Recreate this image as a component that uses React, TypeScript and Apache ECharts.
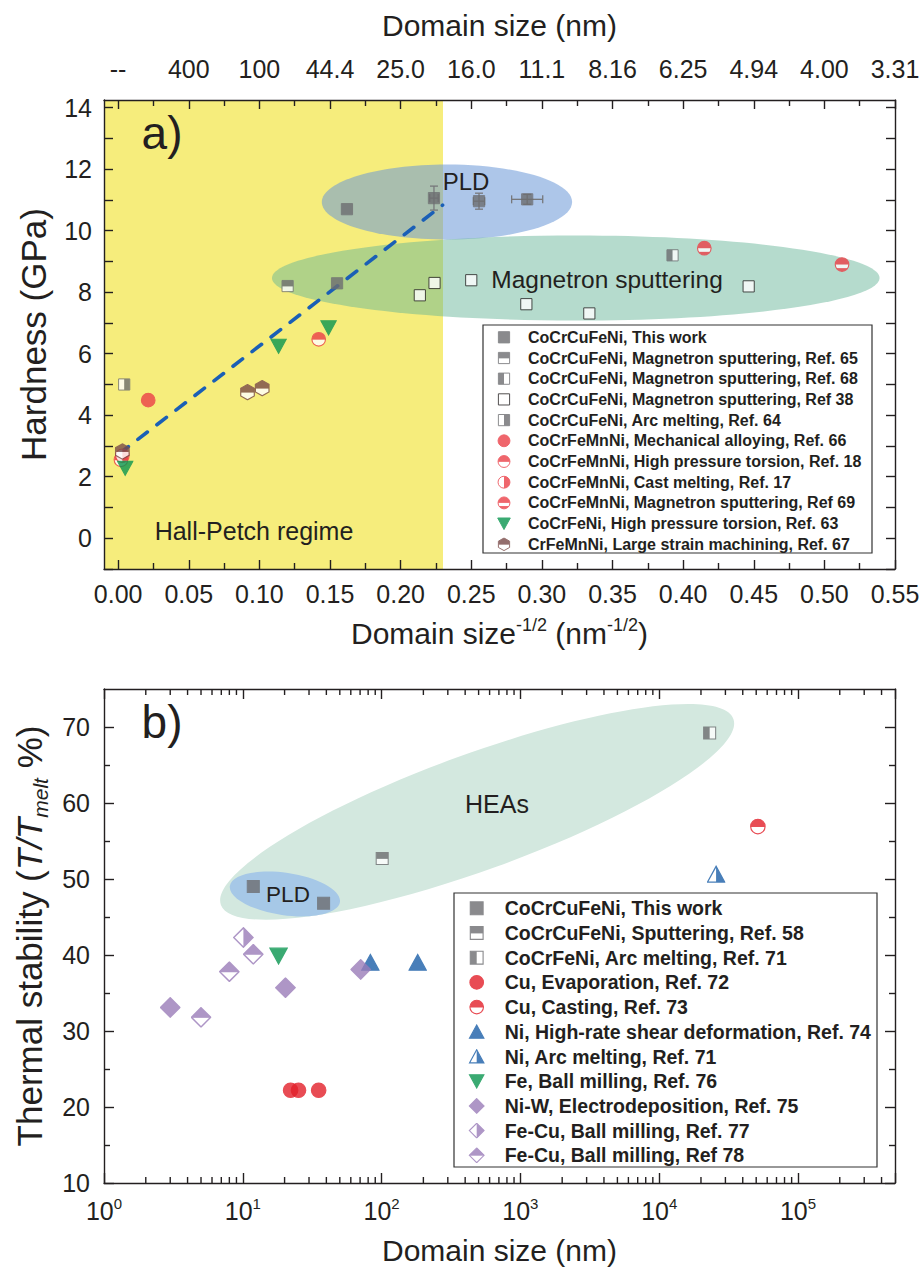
import React, { useEffect, useRef } from 'react';
import * as echarts from 'echarts';

const FONT = "'Liberation Sans', Arial, Helvetica, sans-serif";
const INK = '#231f20';

// ---------------- Panel a: axes ----------------
const aXMajor = [0, 0.05, 0.1, 0.15, 0.2, 0.25, 0.3, 0.35, 0.4, 0.45, 0.5, 0.55];
const aXMinor = [0.025, 0.075, 0.125, 0.175, 0.225, 0.275, 0.325, 0.375, 0.425, 0.475, 0.525];
const aTopLabels = ['--', '400', '100', '44.4', '25.0', '16.0', '11.1', '8.16', '6.25', '4.94', '4.00', '3.31'];
const aYLabels = [0, 2, 4, 6, 8, 10, 12, 14];
const aYTicks = [-1, 0, 1, 2, 3, 4, 5, 6, 7, 8, 9, 10, 11, 12, 13, 14];
const hallPetchLimit = 0.23;

// ---------------- Panel a: data (x = d^-1/2, y = hardness GPa) ----------------
const aThisWork = [[0.162, 10.7], [0.2236, 11.06], [0.2555, 10.96], [0.2896, 11.02], [0.155, 8.29]];
const aThisWorkErr = [[0.2236, 11.06, 0.003, 0.39], [0.2555, 10.96, 0.004, 0.26], [0.2896, 11.02, 0.011, 0.16]];
const aRef65 = [[0.12, 8.2]];
const aRef68 = [[0.3925, 9.2]];
const aRef38 = [[0.2136, 7.9], [0.224, 8.3], [0.25, 8.39], [0.289, 7.61], [0.3336, 7.31], [0.4464, 8.19]];
const aRef64 = [[0.0043, 5.0]];
const aRef66 = [[0.0213, 4.49]];
const aRef18 = [[0.142, 6.47], [0.002, 2.55]];
const aRef17 = [[0.003, 2.68]];
const aRef69 = [[0.415, 9.43], [0.5125, 8.9]];
const aRef63 = [[0.005, 2.28], [0.1136, 6.25], [0.149, 6.85]];
const aRef67 = [[0.003, 2.82], [0.0916, 4.75], [0.102, 4.88]];
const hallPetchFit = [[0.0005, 2.74], [0.2297, 10.83]];
// ellipses: [x1, y1, x2, y2] ends of major axis (data coords)
const aPldEllipse = [0.1442, 10.93, 0.3214, 10.93];
const aMagEllipse = [0.1089, 8.46, 0.5391, 8.46];

// ---------------- Panel b: axes ----------------
const bYLabels = [10, 20, 30, 40, 50, 60, 70];
const bYMinor = [15, 25, 35, 45, 55, 65];
const bXMinor = [
  2, 3, 4, 5, 6, 7, 8, 9, 20, 30, 40, 50, 60, 70, 80, 90,
  200, 300, 400, 500, 600, 700, 800, 900, 2000, 3000, 4000, 5000, 6000, 7000, 8000, 9000,
  20000, 30000, 40000, 50000, 60000, 70000, 80000, 90000, 200000, 300000, 400000,
];

// ---------------- Panel b: data (x = domain size nm, y = T/Tmelt %) ----------------
const bThisWork = [[11.9, 49.0], [38.2, 46.8]];
const bRef58 = [[101, 52.7]];
const bRef71Hea = [[23100, 69.2]];
const bRef72 = [[22.1, 22.2], [25.2, 22.2], [35.2, 22.2]];
const bRef73 = [[51400, 56.9]];
const bRef74 = [[83, 39.0], [182, 39.0]];
const bRef71Ni = [[25700, 50.6]];
const bRef76 = [[18.1, 39.9]];
const bRef75 = [[3.0, 33.1], [20.3, 35.7], [70.7, 38.1]];
const bRef77 = [[10.1, 42.3]];
const bRef78 = [[11.9, 40.1], [8.0, 37.8], [5.0, 31.8]];
const bHeaEllipse = [6.95, 46.6, 34270, 71.05];
const bPldEllipse = [8.07, 49.08, 50.1, 46.97];

// ---------------- markers ----------------
const GRAY = '#6d6e71';
const RED_A = '#ec4048';
const RED_B = '#e3202a';
const GREEN = '#0a9650';
const BROWN = '#7a4b49';
const BLUE = '#1b5fa8';
const PURPLE = '#9a7cb9';

const PATHS: Record<string, string> = {
  square: 'M2 2H18V18H2Z',
  circle: 'M1.5 10A8.5 8.5 0 1 0 18.5 10A8.5 8.5 0 1 0 1.5 10Z',
  triUp: 'M10 1.5L19 18H1Z',
  triDown: 'M1 2H19L10 18.5Z',
  diamond: 'M10 0.8L19.2 10L10 19.2L0.8 10Z',
  hexagon: 'M10 1L18 5.5V14.5L10 19L2 14.5V5.5Z',
};

function marker(shape: string, fill: string, color: string, stroke?: string): string {
  const d = PATHS[shape];
  const st = stroke || color;
  let body = '';
  const clip = `<defs><clipPath id="k"><path d="${d}"/></clipPath></defs>`;
  if (fill === 'full') body = `<path d="${d}" fill="${color}"/>`;
  else if (fill === 'open') body = `<path d="${d}" fill="#fff"/>`;
  else if (fill === 'band')
    body = `${clip}<path d="${d}" fill="${color}"/><rect x="0" y="10" width="20" height="4.5" fill="#fff" clip-path="url(#k)"/>`;
  else {
    const r =
      fill === 'top'
        ? 'x="0" y="0" width="20" height="10.5"'
        : fill === 'left'
        ? 'x="0" y="0" width="10" height="20"'
        : 'x="10" y="0" width="10" height="20"';
    body = `${clip}<path d="${d}" fill="#fff"/><rect ${r} fill="${color}" clip-path="url(#k)"/>`;
  }
  const svg = `<svg xmlns="http://www.w3.org/2000/svg" width="20" height="20" viewBox="0 0 20 20">${body}<path d="${d}" fill="none" stroke="${st}" stroke-width="1.4"/></svg>`;
  return 'image://data:image/svg+xml;charset=utf-8,' + encodeURIComponent(svg);
}

type SeriesDef = { name: string; data: number[][]; symbol: string; size: number };

const seriesA: SeriesDef[] = [
  { name: 'CoCrCuFeNi, This work', data: aThisWork, symbol: marker('square', 'full', GRAY), size: 14 },
  { name: 'CoCrCuFeNi, Magnetron sputtering, Ref. 65', data: aRef65, symbol: marker('square', 'top', GRAY), size: 14 },
  { name: 'CoCrCuFeNi, Magnetron sputtering, Ref. 68', data: aRef68, symbol: marker('square', 'left', GRAY), size: 14 },
  { name: 'CoCrCuFeNi, Magnetron sputtering, Ref 38', data: aRef38, symbol: marker('square', 'open', '#fff', INK), size: 14 },
  { name: 'CoCrCuFeNi, Arc melting, Ref. 64', data: aRef64, symbol: marker('square', 'right', GRAY), size: 14 },
  { name: 'CoCrFeMnNi, Mechanical alloying, Ref. 66', data: aRef66, symbol: marker('circle', 'full', RED_A), size: 16 },
  { name: 'CoCrFeMnNi, High pressure torsion, Ref. 18', data: aRef18, symbol: marker('circle', 'top', RED_A), size: 16 },
  { name: 'CoCrFeMnNi, Cast melting, Ref. 17', data: aRef17, symbol: marker('circle', 'right', RED_A), size: 16 },
  { name: 'CoCrFeMnNi, Magnetron sputtering, Ref 69', data: aRef69, symbol: marker('circle', 'band', RED_A), size: 16 },
  { name: 'CoCrFeNi, High pressure torsion, Ref. 63', data: aRef63, symbol: marker('triDown', 'full', GREEN), size: 17 },
  { name: 'CrFeMnNi, Large strain machining, Ref. 67', data: aRef67, symbol: marker('hexagon', 'top', BROWN), size: 17 },
];

const seriesB: SeriesDef[] = [
  { name: 'CoCrCuFeNi, This work', data: bThisWork, symbol: marker('square', 'full', GRAY), size: 15 },
  { name: 'CoCrCuFeNi, Sputtering, Ref. 58', data: bRef58, symbol: marker('square', 'top', GRAY), size: 15 },
  { name: 'CoCrFeNi, Arc melting, Ref. 71', data: bRef71Hea, symbol: marker('square', 'left', GRAY), size: 15 },
  { name: 'Cu, Evaporation, Ref. 72', data: bRef72, symbol: marker('circle', 'full', RED_B), size: 17 },
  { name: 'Cu, Casting, Ref. 73', data: bRef73, symbol: marker('circle', 'top', RED_B), size: 17 },
  { name: 'Ni, High-rate shear deformation, Ref. 74', data: bRef74, symbol: marker('triUp', 'full', BLUE), size: 19 },
  { name: 'Ni, Arc melting, Ref. 71', data: bRef71Ni, symbol: marker('triUp', 'right', BLUE), size: 19 },
  { name: 'Fe, Ball milling, Ref. 76', data: bRef76, symbol: marker('triDown', 'full', GREEN), size: 19 },
  { name: 'Ni-W, Electrodeposition, Ref. 75', data: bRef75, symbol: marker('diamond', 'full', PURPLE), size: 21 },
  { name: 'Fe-Cu, Ball milling, Ref. 77', data: bRef77, symbol: marker('diamond', 'right', PURPLE), size: 21 },
  { name: 'Fe-Cu, Ball milling, Ref 78', data: bRef78, symbol: marker('diamond', 'top', PURPLE), size: 21 },
];

const line = { color: INK, width: 1.4 };
const labelFont = { fontFamily: FONT, color: INK, fontSize: 25, hideOverlap: false };

function ellipseSeries(xi: number, yi: number, ends: number[], ratio: number, fill: string, z: number) {
  return {
    type: 'custom',
    xAxisIndex: xi,
    yAxisIndex: yi,
    z,
    silent: true,
    data: [ends],
    renderItem: (_p: any, api: any) => {
      const p1 = api.coord([api.value(0), api.value(1)]);
      const p2 = api.coord([api.value(2), api.value(3)]);
      const a = Math.hypot(p2[0] - p1[0], p2[1] - p1[1]) / 2;
      const ang = Math.atan2(p2[1] - p1[1], p2[0] - p1[0]);
      return {
        type: 'ellipse',
        x: (p1[0] + p2[0]) / 2,
        y: (p1[1] + p2[1]) / 2,
        rotation: -ang,
        shape: { cx: 0, cy: 0, rx: a, ry: a * ratio },
        style: { fill },
      };
    },
  };
}

function txt(text: string, x: number, y: number, fontSize: number) {
  return {
    type: 'text', z: 10, x, y,
    style: { text, fontFamily: FONT, fontSize, fill: INK, textAlign: 'center', textVerticalAlign: 'middle' },
  };
}

function buildOption() {
  const nameA = (n: string) => 'a:' + n;
  const nameB = (n: string) => 'b:' + n;
  return {
    animation: false,
    backgroundColor: '#ffffff',
    grid: [
      { left: 104, top: 100, width: 791, height: 469, containLabel: false, outerBoundsMode: 'none' },
      { left: 104, top: 689, width: 791, height: 494, containLabel: false, outerBoundsMode: 'none' },
    ],
    xAxis: [
      {
        type: 'value', gridIndex: 0, position: 'bottom', min: -0.01, max: 0.55, z: 5,
        axisLine: { show: true, onZero: false, lineStyle: line }, splitLine: { show: false },
        axisTick: { show: true, inside: true, length: 9, lineStyle: line, customValues: aXMajor },
        axisLabel: { ...labelFont, customValues: aXMajor, margin: 12, formatter: (v: number) => v.toFixed(2) },
        name: 'Domain size{s|-1/2} (nm{s|-1/2})', nameLocation: 'middle', nameGap: 47, nameMoveOverlap: false,
        nameTextStyle: {
          fontFamily: FONT, fontSize: 30, color: INK, lineHeight: 34,
          rich: { s: { fontFamily: FONT, fontSize: 18, lineHeight: 18, verticalAlign: 'top', color: INK } },
        },
      },
      {
        type: 'value', gridIndex: 0, position: 'bottom', min: -0.01, max: 0.55, z: 5,
        axisLine: { show: false, onZero: false }, splitLine: { show: false }, axisLabel: { show: false },
        axisTick: { show: true, inside: true, length: 6, lineStyle: line, customValues: aXMinor },
      },
      {
        type: 'value', gridIndex: 0, position: 'top', min: -0.01, max: 0.55, z: 5,
        axisLine: { show: true, onZero: false, lineStyle: line }, splitLine: { show: false },
        axisTick: { show: true, inside: true, length: 9, lineStyle: line, customValues: aXMajor },
        axisLabel: {
          ...labelFont, customValues: aXMajor, margin: 19,
          formatter: (v: number) => aTopLabels[Math.round(v / 0.05)] ?? '',
        },
        name: 'Domain size (nm)', nameLocation: 'middle', nameGap: 60, nameMoveOverlap: false,
        nameTextStyle: { fontFamily: FONT, fontSize: 30, color: INK },
      },
      {
        type: 'value', gridIndex: 0, position: 'top', min: -0.01, max: 0.55, z: 5,
        axisLine: { show: false, onZero: false }, splitLine: { show: false }, axisLabel: { show: false },
        axisTick: { show: true, inside: true, length: 6, lineStyle: line, customValues: aXMinor },
      },
      {
        type: 'log', logBase: 10, gridIndex: 1, position: 'bottom', min: 1, max: 500000, splitNumber: 6, z: 5,
        axisLine: { show: true, onZero: false, lineStyle: line }, splitLine: { show: false }, minorTick: { show: false },
        axisTick: { show: true, inside: true, length: 10, lineStyle: line },
        axisLabel: {
          ...labelFont, margin: 13,
          formatter: (v: number) => {
            const e = Math.log10(v);
            if (Math.abs(e - Math.round(e)) > 1e-6) return '';
            return '{m|10}{s|' + Math.round(e) + '}';
          },
          rich: {
            m: { fontFamily: FONT, fontSize: 25, lineHeight: 30, color: INK },
            s: { fontFamily: FONT, fontSize: 15, lineHeight: 15, verticalAlign: 'top', color: INK },
          },
        },
        name: 'Domain size (nm)', nameLocation: 'middle', nameGap: 52, nameMoveOverlap: false,
        nameTextStyle: { fontFamily: FONT, fontSize: 30, color: INK },
      },
      {
        type: 'log', logBase: 10, gridIndex: 1, position: 'top', min: 1, max: 500000, splitNumber: 6, z: 5,
        axisLine: { show: true, onZero: false, lineStyle: line }, splitLine: { show: false }, minorTick: { show: false },
        axisTick: { show: true, inside: true, length: 10, lineStyle: line }, axisLabel: { show: false },
      },
    ],
    yAxis: [
      {
        type: 'value', gridIndex: 0, position: 'left', min: -1, max: 14.25, z: 5,
        axisLine: { show: true, onZero: false, lineStyle: line }, splitLine: { show: false },
        axisTick: { show: true, inside: true, length: 9, lineStyle: line, customValues: aYTicks },
        axisLabel: { ...labelFont, customValues: aYLabels, margin: 12 },
        name: 'Hardness (GPa)', nameLocation: 'middle', nameGap: 53, nameRotate: 90, nameMoveOverlap: false,
        nameTextStyle: { fontFamily: FONT, fontSize: 35, color: INK },
      },
      {
        type: 'value', gridIndex: 0, position: 'right', min: -1, max: 14.25, z: 5,
        axisLine: { show: true, onZero: false, lineStyle: line }, splitLine: { show: false }, axisLabel: { show: false },
        axisTick: { show: true, inside: true, length: 9, lineStyle: line, customValues: aYTicks },
      },
      {
        type: 'value', gridIndex: 1, position: 'left', min: 10, max: 75, z: 5,
        axisLine: { show: true, onZero: false, lineStyle: line }, splitLine: { show: false },
        axisTick: { show: true, inside: true, length: 10, lineStyle: line, customValues: bYLabels },
        axisLabel: { ...labelFont, customValues: bYLabels, margin: 14 },
        name: 'Thermal stability ({i|T/T}{m|melt} %)', nameLocation: 'middle', nameGap: 53, nameRotate: 90,
        nameMoveOverlap: false,
        nameTextStyle: {
          fontFamily: FONT, fontSize: 35, color: INK, lineHeight: 44,
          rich: {
            i: { fontFamily: FONT, fontSize: 35, fontStyle: 'italic', color: INK, lineHeight: 44 },
            m: { fontFamily: FONT, fontSize: 21, fontStyle: 'italic', color: INK, lineHeight: 21, verticalAlign: 'bottom' },
          },
        },
      },
      {
        type: 'value', gridIndex: 1, position: 'left', min: 10, max: 75, z: 5,
        axisLine: { show: false, onZero: false }, splitLine: { show: false }, axisLabel: { show: false },
        axisTick: { show: true, inside: true, length: 6, lineStyle: line, customValues: bYMinor },
      },
      {
        type: 'value', gridIndex: 1, position: 'right', min: 10, max: 75, z: 5,
        axisLine: { show: true, onZero: false, lineStyle: line }, splitLine: { show: false }, axisLabel: { show: false },
        axisTick: { show: true, inside: true, length: 10, lineStyle: line, customValues: bYLabels },
      },
      {
        type: 'value', gridIndex: 1, position: 'right', min: 10, max: 75, z: 5,
        axisLine: { show: false, onZero: false }, splitLine: { show: false }, axisLabel: { show: false },
        axisTick: { show: true, inside: true, length: 6, lineStyle: line, customValues: bYMinor },
      },
    ],
    legend: [
      {
        orient: 'vertical', left: 485, top: 329.3, padding: 0, itemGap: 4.7, itemWidth: 38, itemHeight: 14,
        selectedMode: false, z: 6,
        textStyle: { fontFamily: FONT, fontSize: 16, fontWeight: 'bold', color: INK, lineHeight: 16 },
        formatter: (n: string) => n.slice(2),
        data: seriesA.map((s) => ({ name: nameA(s.name), icon: s.symbol })),
      },
      {
        orient: 'vertical', left: 453.7, top: 898.3, padding: 0, itemGap: 4.7, itemWidth: 46, itemHeight: 16,
        selectedMode: false, z: 6,
        textStyle: { fontFamily: FONT, fontSize: 19.5, fontWeight: 'bold', color: INK, lineHeight: 20 },
        formatter: (n: string) => n.slice(2),
        data: seriesB.map((s) => ({ name: nameB(s.name), icon: s.symbol })),
      },
    ],
    graphic: [
      { type: 'rect', z: 3, shape: { x: 483, y: 325, width: 389, height: 228 }, style: { fill: '#fff', stroke: '#333', lineWidth: 1.2 } },
      { type: 'rect', z: 3, shape: { x: 454, y: 893, width: 423, height: 274 }, style: { fill: '#fff', stroke: '#333', lineWidth: 1.2 } },
      txt('a)', 162, 133, 46),
      txt('PLD', 466, 181, 24),
      txt('Magnetron sputtering', 607, 279, 24.5),
      txt('Hall-Petch regime', 254, 531, 25),
      txt('b)', 162, 722, 46),
      txt('HEAs', 497, 804, 25),
      txt('PLD', 288, 894, 22.5),
    ],
    series: [
      // ---- panel a ----
      {
        type: 'custom', xAxisIndex: 0, yAxisIndex: 0, z: 1, silent: true,
        data: [[hallPetchLimit, 0]],
        renderItem: (params: any, api: any) => {
          const cs = params.coordSys;
          const right = api.coord([api.value(0), api.value(1)])[0];
          return { type: 'rect', shape: { x: cs.x, y: cs.y, width: right - cs.x, height: cs.height }, style: { fill: '#f6ed7c' } };
        },
      },
      ellipseSeries(0, 0, aPldEllipse, 0.3, 'rgba(105,152,215,0.55)', 1),
      ellipseSeries(0, 0, aMagEllipse, 0.14, 'rgba(100,180,150,0.48)', 1),
      {
        type: 'line', xAxisIndex: 0, yAxisIndex: 0, z: 2, silent: true, symbol: 'none',
        data: hallPetchFit,
        lineStyle: { color: '#1a5fb6', width: 3.6, type: [12, 12], cap: 'round' },
      },
      {
        type: 'custom', xAxisIndex: 0, yAxisIndex: 0, z: 3, silent: true,
        data: aThisWorkErr,
        renderItem: (_p: any, api: any) => {
          const x = api.value(0), y = api.value(1), dx = api.value(2), dy = api.value(3);
          const c = api.coord([x, y]);
          const l = api.coord([x - dx, y]);
          const r = api.coord([x + dx, y]);
          const t = api.coord([x, y + dy]);
          const b = api.coord([x, y - dy]);
          const cap = 4;
          const s = { stroke: '#77787b', lineWidth: 1.3 };
          return {
            type: 'group',
            children: [
              { type: 'line', shape: { x1: l[0], y1: c[1], x2: r[0], y2: c[1] }, style: s },
              { type: 'line', shape: { x1: l[0], y1: c[1] - cap, x2: l[0], y2: c[1] + cap }, style: s },
              { type: 'line', shape: { x1: r[0], y1: c[1] - cap, x2: r[0], y2: c[1] + cap }, style: s },
              { type: 'line', shape: { x1: c[0], y1: t[1], x2: c[0], y2: b[1] }, style: s },
              { type: 'line', shape: { x1: c[0] - cap, y1: t[1], x2: c[0] + cap, y2: t[1] }, style: s },
              { type: 'line', shape: { x1: c[0] - cap, y1: b[1], x2: c[0] + cap, y2: b[1] }, style: s },
            ],
          };
        },
      },
      ...seriesA.map((s) => ({
        type: 'scatter', name: nameA(s.name), xAxisIndex: 0, yAxisIndex: 0, z: 4, silent: true,
        symbol: s.symbol, symbolSize: s.size, data: s.data,
      })),
      // ---- panel b ----
      ellipseSeries(4, 2, bHeaEllipse, 0.213, '#d3e8df', 1),
      ellipseSeries(4, 2, bPldEllipse, 0.38, '#a6c8e7', 1.5),
      {
        type: 'custom', xAxisIndex: 4, yAxisIndex: 2, z: 6, silent: true,
        data: bXMinor.map((v) => [v, 40]),
        renderItem: (params: any, api: any) => {
          const cs = params.coordSys;
          const x = api.coord([api.value(0), api.value(1)])[0];
          const s = { stroke: INK, lineWidth: 1.4 };
          return {
            type: 'group',
            children: [
              { type: 'line', shape: { x1: x, y1: cs.y + cs.height, x2: x, y2: cs.y + cs.height - 6 }, style: s },
              { type: 'line', shape: { x1: x, y1: cs.y, x2: x, y2: cs.y + 6 }, style: s },
            ],
          };
        },
      },
      ...seriesB.map((s) => ({
        type: 'scatter', name: nameB(s.name), xAxisIndex: 4, yAxisIndex: 2, z: 4, silent: true,
        symbol: s.symbol, symbolSize: s.size, data: s.data,
      })),
    ],
  };
}

export default function App() {
  const ref = useRef<HTMLDivElement>(null);
  useEffect(() => {
    document.body.style.margin = '0';
    if (!ref.current) return;
    const chart = echarts.init(ref.current, undefined, { renderer: 'svg' });
    chart.setOption(buildOption() as any);
    return () => chart.dispose();
  }, []);
  return <div ref={ref} style={{ width: 922, height: 1277, background: '#fff' }} />;
}
